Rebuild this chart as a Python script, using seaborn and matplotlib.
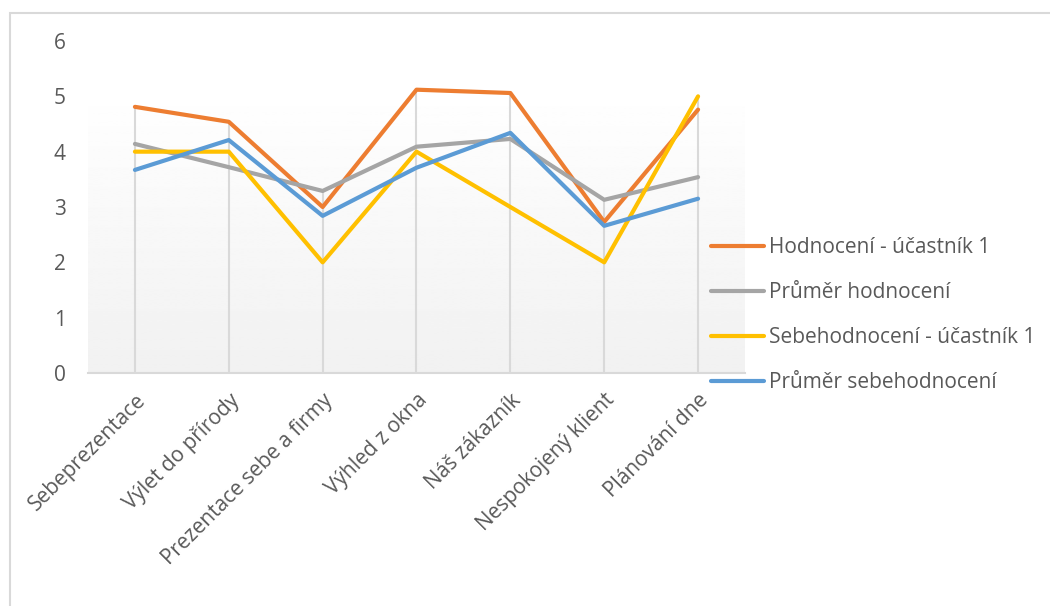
import matplotlib.pyplot as plt
import numpy as np
import pandas as pd
import seaborn as sns
from matplotlib.patches import Rectangle

categories = ["Sebeprezentace", "Výlet do přírody", "Prezentace sebe a firmy",
              "Výhled z okna", "Náš zákazník", "Nespokojený klient", "Plánování dne"]

hodnoceni = [4.81, 4.54, 3.0, 5.12, 5.06, 2.73, 4.76]
prumer_hodnoceni = [4.14, 3.72, 3.29, 4.09, 4.23, 3.13, 3.54]
sebehodnoceni = [4, 4, 2, 4, 3, 2, 5]
prumer_sebehodnoceni = [3.67, 4.21, 2.84, 3.71, 4.34, 2.66, 3.15]

series = {
    "Hodnocení - účastník 1": hodnoceni,
    "Průměr hodnocení": prumer_hodnoceni,
    "Sebehodnocení - účastník 1": sebehodnoceni,
    "Průměr sebehodnocení": prumer_sebehodnoceni,
}
colors = ["#ED7D31", "#A5A5A5", "#FFC000", "#5B9BD5"]

# long form table for seaborn
rows = []
for name, vals in series.items():
    for i, v in enumerate(vals):
        rows.append({"pos": i, "kategorie": categories[i], "hodnota": v, "serie": name})
df = pd.DataFrame(rows)

sns.set_style("white")
plt.rcParams['font.family'] = ['Open Sans', 'DejaVu Sans']
text_color = "#595959"
fs = 15

fig = plt.figure(figsize=(10.5, 6.06), dpi=100)
ax = fig.add_axes([88 / 1050, 1 - 373 / 606, (745 - 88) / 1050, (373 - 41) / 606])

# gradient background of the plot area
grad = np.linspace(0.945, 1.0, 256).reshape(-1, 1)
ax.imshow(grad, cmap="gray", vmin=0, vmax=1, origin="lower", aspect="auto",
          extent=(-0.5, 6.5, 0, 5.2), zorder=0)

# drop lines from the highest value
tops = np.max(np.array(list(series.values())), axis=0)
ax.vlines(range(len(categories)), 0, tops, color="#d9d9d9", lw=1.5, zorder=1)

sns.lineplot(data=df, x="pos", y="hodnota", hue="serie", palette=colors,
             linewidth=3.0, sort=False, ax=ax, zorder=3)

ax.set_xlim(-0.5, 6.5)
ax.set_ylim(0, 6)
ax.set_yticks(range(0, 7))
ax.set_xticks(range(len(categories)))
ax.set_xticklabels(categories, rotation=45, ha="right", rotation_mode="anchor")
ax.set_xlabel("")
ax.set_ylabel("")
ax.tick_params(axis="both", length=0, labelsize=fs, colors=text_color)
ax.tick_params(axis="y", pad=16)
ax.tick_params(axis="x", pad=12)

for side in ["top", "right", "left"]:
    ax.spines[side].set_visible(False)
ax.spines["bottom"].set_color("#d9d9d9")
ax.spines["bottom"].set_linewidth(1.5)
ax.patch.set_alpha(0)

handles, labels = ax.get_legend_handles_labels()
ax.get_legend().remove()
leg = fig.legend(handles, labels, loc="upper left", bbox_to_anchor=(711 / 1050, 1 - 237 / 606),
                 frameon=False, fontsize=fs, handlelength=2.55, handletextpad=0.25,
                 labelspacing=1.15, borderaxespad=0, borderpad=0)
for t in leg.get_texts():
    t.set_color(text_color)

# chart border
fig.patches.append(Rectangle((10 / 1050, -0.1), 1.2, 1 - 13 / 606 + 0.1, transform=fig.transFigure,
                             fill=False, edgecolor="#d9d9d9", lw=1.5))

fig.savefig("out.png", dpi=100)
